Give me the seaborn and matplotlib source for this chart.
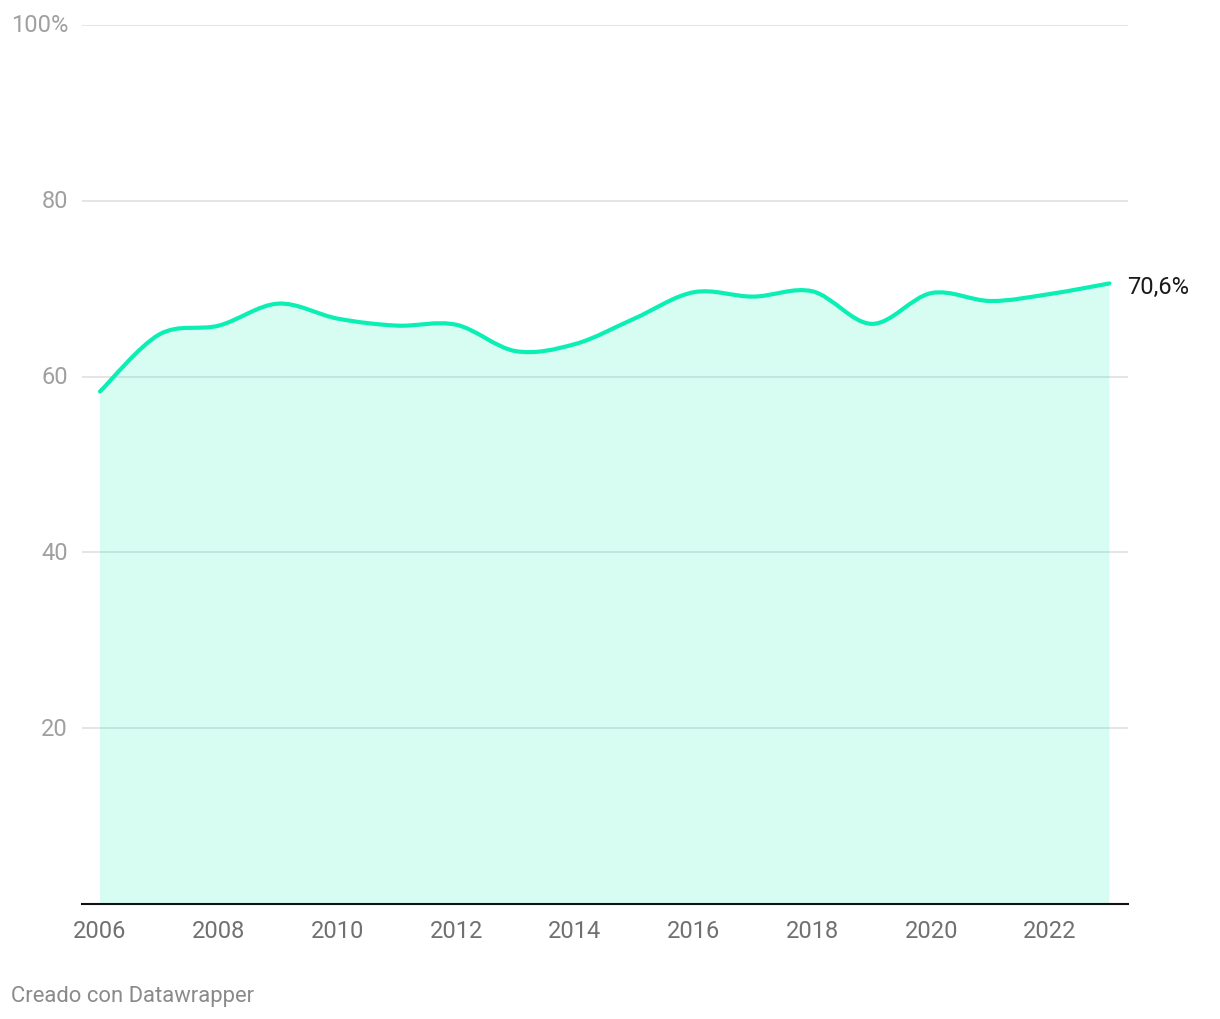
import numpy as np
import matplotlib.pyplot as plt
import seaborn as sns
from matplotlib.path import Path
from matplotlib.patches import PathPatch

# --- Daten ---
years = [2006, 2007, 2008, 2009, 2010, 2011, 2012, 2013, 2014,
         2015, 2016, 2017, 2018, 2019, 2020, 2021, 2022, 2023]
values = [58.3, 64.8, 65.8, 68.3, 66.6, 65.8, 65.9, 62.9, 63.7,
          66.6, 69.6, 69.1, 69.7, 66.0, 69.5, 68.6, 69.4, 70.6]
y_ticks = [20, 40, 60, 80, 100]
y_ticklabels = ["20", "40", "60", "80", "100%"]
x_ticks = list(range(2006, 2023, 2))
last_label = "70,6%"
source = "Creado con Datawrapper"

LINE = "#0cefb4"
FILL = "#0cefb4"

sns.set_theme(style="white")
plt.rcParams["font.family"] = ["Roboto", "DejaVu Sans"]

fig = plt.figure(figsize=(12.2, 10.2), dpi=100)
ax = fig.add_axes([82 / 1220, 115 / 1020, 1046 / 1220, 879 / 1020])


def smooth_path(xs, ys):
    # Catmull-Rom als kubische Bezier-Segmente
    pts = np.column_stack([xs, ys]).astype(float)
    verts = [pts[0]]
    codes = [Path.MOVETO]
    n = len(pts)
    for i in range(n - 1):
        p0 = pts[max(i - 1, 0)]
        p1 = pts[i]
        p2 = pts[i + 1]
        p3 = pts[min(i + 2, n - 1)]
        c1 = p1 + (p2 - p0) / 6
        c2 = p2 - (p3 - p1) / 6
        verts += [c1, c2, p2]
        codes += [Path.CURVE4] * 3
    return verts, codes


verts, codes = smooth_path(years, values)

# Fläche
fill_verts = verts + [(years[-1], 0), (years[0], 0), verts[0]]
fill_codes = codes + [Path.LINETO, Path.LINETO, Path.CLOSEPOLY]
ax.add_patch(PathPatch(Path(fill_verts, fill_codes), facecolor=FILL,
                       edgecolor="none", alpha=0.16, zorder=2))
# Linie
ax.add_patch(PathPatch(Path(verts, codes), facecolor="none", edgecolor=LINE,
                       linewidth=3, capstyle="round", zorder=3))

ax.set_xlim(2005.697, 2023.314)
ax.set_ylim(0, 100)
ax.set_xticks(x_ticks)
ax.set_xticklabels([str(y) for y in x_ticks])
ax.set_yticks(y_ticks)
ax.set_yticklabels(y_ticklabels)
ax.yaxis.grid(True, color="#e0e0e0", linewidth=1.2, zorder=1)
ax.xaxis.grid(False)
ax.set_axisbelow(True)
ax.tick_params(axis="y", length=0, pad=10, labelsize=17, labelcolor="#a0a0a0")
ax.tick_params(axis="x", length=0, pad=11, labelsize=17, labelcolor="#707070")
for lab in ax.get_yticklabels():
    lab.set_verticalalignment("center")

sns.despine(ax=ax, left=True)
ax.spines["bottom"].set_color("#111111")
ax.spines["bottom"].set_linewidth(1.5)
ax.spines["bottom"].set_zorder(4)

ax.annotate(last_label, xy=(years[-1], values[-1]), xytext=(13, -2),
            textcoords="offset points", ha="left", va="center",
            fontsize=17, color="#1a1a1a")

fig.text(11 / 1220, 1 - 997 / 1020, source, ha="left", va="center",
         fontsize=15.8, color="#8a8a8a")

fig.savefig("out.png", dpi=100)
